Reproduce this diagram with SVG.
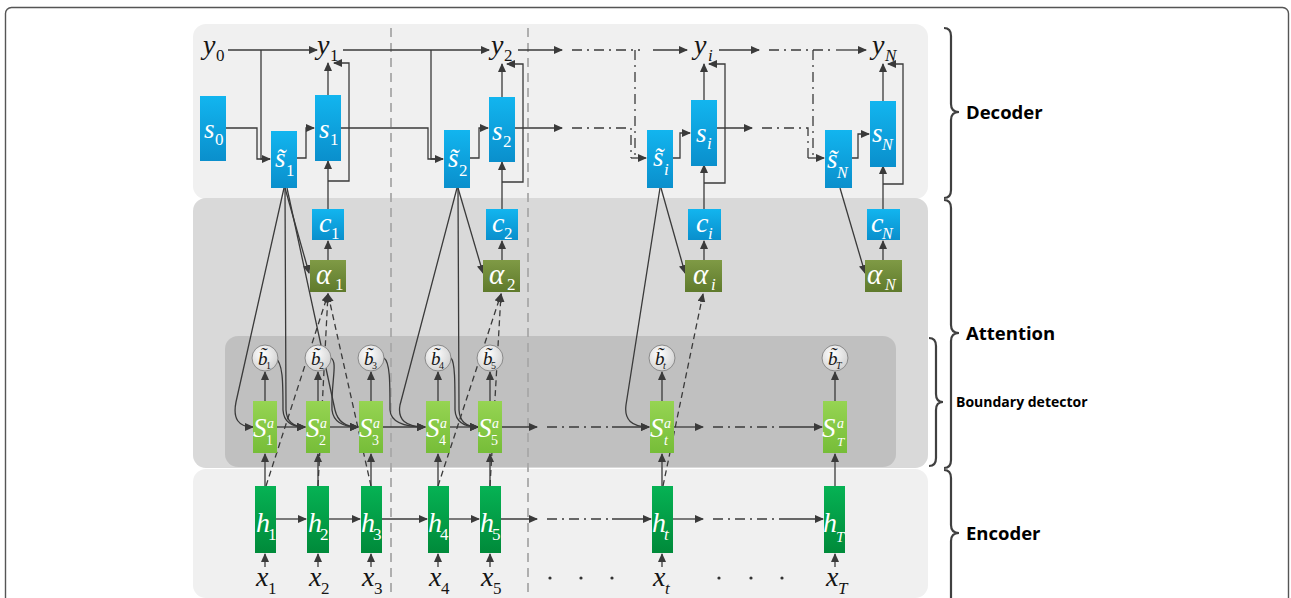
<svg xmlns="http://www.w3.org/2000/svg" width="1291" height="598" viewBox="0 0 1291 598">
<defs>
<linearGradient id="gBlue" x1="0" y1="0" x2="0" y2="1"><stop offset="0" stop-color="#12b5ef"/><stop offset="1" stop-color="#0a8fcc"/></linearGradient>
<linearGradient id="gOlive" x1="0" y1="0" x2="0" y2="1"><stop offset="0" stop-color="#7f9a45"/><stop offset="1" stop-color="#5f7a2c"/></linearGradient>
<linearGradient id="gLight" x1="0" y1="0" x2="0" y2="1"><stop offset="0" stop-color="#96d452"/><stop offset="1" stop-color="#76bd38"/></linearGradient>
<linearGradient id="gDark" x1="0" y1="0" x2="0" y2="1"><stop offset="0" stop-color="#06b254"/><stop offset="1" stop-color="#008a3a"/></linearGradient>
<radialGradient id="gCirc" cx="0.4" cy="0.35" r="0.7"><stop offset="0" stop-color="#ffffff"/><stop offset="1" stop-color="#d0d0d0"/></radialGradient>
<marker id="ah" markerUnits="userSpaceOnUse" markerWidth="9" markerHeight="8" refX="8" refY="4" orient="auto"><path d="M0,0 L9,4 L0,8 z" fill="#3a3a3a"/></marker>
<style>
.ln{fill:none;stroke:#3a3a3a;stroke-width:1.3}
.dd{fill:none;stroke:#3a3a3a;stroke-width:1.3;stroke-dasharray:10 5 2 5}
.ds{fill:none;stroke:#3a3a3a;stroke-width:1.3;stroke-dasharray:6 4}
.gd{fill:none;stroke:#a8a8a8;stroke-width:1.8;stroke-dasharray:9 6}
.br{fill:none;stroke:#404040;stroke-width:2.2}
.m{font-style:italic}
.n{font-style:normal}
.w{fill:#ffffff}
.k{fill:#151515}
.lab{font-weight:bold;fill:#000}
</style>
</defs>
<rect x="5.5" y="7.5" width="1283" height="620" rx="6" fill="#fff" stroke="#555" stroke-width="1.4"/>
<g id="panels">
<rect x="193" y="24" width="735" height="175" rx="13" fill="#f0f0f0"/>
<rect x="193" y="198" width="735" height="270" rx="13" fill="#d9d9d9"/>
<rect x="225" y="336" width="671" height="131" rx="13" fill="#c0c0c0"/>
<rect x="193" y="469" width="735" height="129" rx="13" fill="#f0f0f0"/>
</g>
<g id="separators">
<line class="gd" x1="391" y1="28" x2="391" y2="598"/>
<line class="gd" x1="528" y1="28" x2="528" y2="598"/>
</g>
<g id="connectors">
<path class="ln" d="M228,50 H317" marker-end="url(#ah)"/>
<path class="ln" d="M261,50 V159 H270" marker-end="url(#ah)"/>
<path class="ln" d="M226,128 H257 V159 H270"/>
<path class="ln" d="M297,158 H306 V128 H314" marker-end="url(#ah)"/>
<path class="ln" d="M328,95 V63" marker-end="url(#ah)"/>
<path class="ln" d="M328,209 V161" marker-end="url(#ah)"/>
<path class="ln" d="M328,181 H349 V63 H334" marker-end="url(#ah)"/>
<path class="ln" d="M343,50 H489" marker-end="url(#ah)"/>
<path class="ln" d="M431,50 V159 H443" marker-end="url(#ah)"/>
<path class="ln" d="M341,128 H428 V159 H443"/>
<path class="ln" d="M470,158 H479 V128 H488" marker-end="url(#ah)"/>
<path class="ln" d="M502,97 V64" marker-end="url(#ah)"/>
<path class="ln" d="M502,209 V162" marker-end="url(#ah)"/>
<path class="ln" d="M502,182 H523 V64 H507" marker-end="url(#ah)"/>
<path class="ln" d="M518,50 H562" marker-end="url(#ah)"/>
<path class="dd" d="M572,50 H640"/>
<path class="ln" d="M653,50 H687" marker-end="url(#ah)"/>
<path class="dd" d="M635,50 V158"/>
<path class="ln" d="M515,128 H562" marker-end="url(#ah)"/>
<path class="dd" d="M572,128 H631 V158"/>
<path class="ln" d="M631,158 H646" marker-end="url(#ah)"/>
<path class="ln" d="M673,158 H680 V133 H690" marker-end="url(#ah)"/>
<path class="ln" d="M704,100 V64" marker-end="url(#ah)"/>
<path class="ln" d="M704,209 V165" marker-end="url(#ah)"/>
<path class="ln" d="M704,183 H725 V64 H709" marker-end="url(#ah)"/>
<path class="ln" d="M719,50 H759" marker-end="url(#ah)"/>
<path class="dd" d="M769,50 H832"/>
<path class="ln" d="M836,50 H866" marker-end="url(#ah)"/>
<path class="dd" d="M813,50 V158"/>
<path class="ln" d="M717,128 H752" marker-end="url(#ah)"/>
<path class="dd" d="M762,128 H808 V158"/>
<path class="ln" d="M808,158 H824" marker-end="url(#ah)"/>
<path class="ln" d="M852,158 H858 V134 H869" marker-end="url(#ah)"/>
<path class="ln" d="M883,101 V64" marker-end="url(#ah)"/>
<path class="ln" d="M883,209 V166" marker-end="url(#ah)"/>
<path class="ln" d="M883,184 H903 V64 H888" marker-end="url(#ah)"/>
<path class="ln" d="M328,260 V241" marker-end="url(#ah)"/>
<path class="ln" d="M502,260 V241" marker-end="url(#ah)"/>
<path class="ln" d="M704,260 V241" marker-end="url(#ah)"/>
<path class="ln" d="M883,260 V241" marker-end="url(#ah)"/>
<path class="ln" d="M284,188 L236,402 Q231,427 253,427" marker-end="url(#ah)"/>
<path class="ln" d="M285,188 L286,410 Q287,427 305,427" marker-end="url(#ah)"/>
<path class="ln" d="M285,188 L309,273" marker-end="url(#ah)"/>
<path class="ln" d="M287,188 L335,410 Q339,427 358,427" marker-end="url(#ah)"/>
<path class="ln" d="M457,188 L400,405 Q396,427 425,427" marker-end="url(#ah)"/>
<path class="ln" d="M458,188 L459,410 Q460,427 478,427" marker-end="url(#ah)"/>
<path class="ln" d="M458,188 L483,273" marker-end="url(#ah)"/>
<path class="ln" d="M660,188 L626,405 Q623,427 649,427" marker-end="url(#ah)"/>
<path class="ln" d="M661,188 L685,273" marker-end="url(#ah)"/>
<path class="ln" d="M840,188 L865,273" marker-end="url(#ah)"/>
<path class="ds" d="M266,486 L328,294" marker-end="url(#ah)"/>
<path class="ds" d="M318,486 L328,294" marker-end="url(#ah)"/>
<path class="ds" d="M371,486 L328,294" marker-end="url(#ah)"/>
<path class="ds" d="M438,486 L501,294" marker-end="url(#ah)"/>
<path class="ds" d="M490,486 L501,294" marker-end="url(#ah)"/>
<path class="ds" d="M663,486 L703,294" marker-end="url(#ah)"/>
<path class="ln" d="M275,358 C283,362 283,382 283,410 Q284,427 305,427" marker-end="url(#ah)"/>
<path class="ln" d="M331,358 C338,362 331,382 332,410 Q334,427 358,427" marker-end="url(#ah)"/>
<path class="ln" d="M384,358 C390,362 390,382 390,410 Q391,427 425,427" marker-end="url(#ah)"/>
<path class="ln" d="M451,358 C455,362 455,382 455,410 Q456,427 478,427" marker-end="url(#ah)"/>
<path class="ln" d="M265,401 V372" marker-end="url(#ah)"/>
<path class="ln" d="M318,401 V372" marker-end="url(#ah)"/>
<path class="ln" d="M371,401 V372" marker-end="url(#ah)"/>
<path class="ln" d="M438,401 V372" marker-end="url(#ah)"/>
<path class="ln" d="M490,401 V372" marker-end="url(#ah)"/>
<path class="ln" d="M662,401 V372" marker-end="url(#ah)"/>
<path class="ln" d="M835,401 V372" marker-end="url(#ah)"/>
<path class="ln" d="M277,427 H305" marker-end="url(#ah)"/>
<path class="ln" d="M330,427 H358" marker-end="url(#ah)"/>
<path class="ln" d="M383,427 H425" marker-end="url(#ah)"/>
<path class="ln" d="M450,427 H478" marker-end="url(#ah)"/>
<path class="ln" d="M502,427 H537" marker-end="url(#ah)"/>
<path class="dd" d="M547,427 H612"/>
<path class="ln" d="M612,427 H649" marker-end="url(#ah)"/>
<path class="ln" d="M674,427 H703" marker-end="url(#ah)"/>
<path class="dd" d="M713,427 H780"/>
<path class="ln" d="M780,427 H822" marker-end="url(#ah)"/>
<path class="ln" d="M265,486 V454" marker-end="url(#ah)"/>
<path class="ln" d="M318,486 V454" marker-end="url(#ah)"/>
<path class="ln" d="M371,486 V454" marker-end="url(#ah)"/>
<path class="ln" d="M438,486 V454" marker-end="url(#ah)"/>
<path class="ln" d="M490,486 V454" marker-end="url(#ah)"/>
<path class="ln" d="M662,486 V454" marker-end="url(#ah)"/>
<path class="ln" d="M835,486 V454" marker-end="url(#ah)"/>
<path class="ln" d="M276,519 H306" marker-end="url(#ah)"/>
<path class="ln" d="M329,519 H360" marker-end="url(#ah)"/>
<path class="ln" d="M382,519 H427" marker-end="url(#ah)"/>
<path class="ln" d="M449,519 H479" marker-end="url(#ah)"/>
<path class="ln" d="M501,519 H537" marker-end="url(#ah)"/>
<path class="dd" d="M547,519 H612"/>
<path class="ln" d="M612,519 H651" marker-end="url(#ah)"/>
<path class="ln" d="M673,519 H703" marker-end="url(#ah)"/>
<path class="dd" d="M713,519 H780"/>
<path class="ln" d="M780,519 H823" marker-end="url(#ah)"/>
<path class="ln" d="M265,567 V554" marker-end="url(#ah)"/>
<path class="ln" d="M318,567 V554" marker-end="url(#ah)"/>
<path class="ln" d="M371,567 V554" marker-end="url(#ah)"/>
<path class="ln" d="M438,567 V554" marker-end="url(#ah)"/>
<path class="ln" d="M490,567 V554" marker-end="url(#ah)"/>
<path class="ln" d="M662,567 V554" marker-end="url(#ah)"/>
<path class="ln" d="M835,567 V554" marker-end="url(#ah)"/>
</g>
<g id="nodes" font-family="Liberation Serif, DejaVu Serif, serif">
<g id="y0"><text class="m k" x="203" y="54" font-size="28">y</text><text class="n k" x="216" y="61" font-size="17">0</text></g>
<g id="y1"><text class="m k" x="317" y="54" font-size="28">y</text><text class="n k" x="330" y="61" font-size="17">1</text></g>
<g id="y2"><text class="m k" x="491" y="54" font-size="28">y</text><text class="n k" x="504" y="61" font-size="17">2</text></g>
<g id="yi"><text class="m k" x="694" y="54" font-size="28">y</text><text class="m k" x="708" y="61" font-size="17">i</text></g>
<g id="yN"><text class="m k" x="872" y="54" font-size="28">y</text><text class="m k" x="885" y="61" font-size="17">N</text></g>
<g id="s0"><rect x="200" y="96" width="26" height="65" fill="url(#gBlue)"/><text class="m w" x="204" y="138" font-size="27">s</text><text class="n w" x="215" y="145" font-size="17">0</text></g>
<g id="st1"><rect x="271" y="131" width="26" height="57" fill="url(#gBlue)"/><text class="m w" x="275" y="167" font-size="27">s&#771;</text><text class="n w" x="286" y="176" font-size="17">1</text></g>
<g id="s1"><rect x="315" y="95" width="26" height="66" fill="url(#gBlue)"/><text class="m w" x="319" y="138" font-size="27">s</text><text class="n w" x="330" y="145" font-size="17">1</text></g>
<g id="st2"><rect x="444" y="130" width="26" height="58" fill="url(#gBlue)"/><text class="m w" x="448" y="167" font-size="27">s&#771;</text><text class="n w" x="459" y="176" font-size="17">2</text></g>
<g id="s2"><rect x="489" y="97" width="26" height="65" fill="url(#gBlue)"/><text class="m w" x="492" y="140" font-size="27">s</text><text class="n w" x="503" y="147" font-size="17">2</text></g>
<g id="sti"><rect x="647" y="130" width="26" height="58" fill="url(#gBlue)"/><text class="m w" x="653" y="166" font-size="27">s&#771;</text><text class="m w" x="664" y="175" font-size="17">i</text></g>
<g id="si"><rect x="691" y="100" width="26" height="66" fill="url(#gBlue)"/><text class="m w" x="696" y="142" font-size="27">s</text><text class="m w" x="707" y="149" font-size="17">i</text></g>
<g id="stN"><rect x="825" y="130" width="27" height="58" fill="url(#gBlue)"/><text class="m w" x="827" y="168" font-size="27">s&#771;</text><text class="m w" x="837" y="178" font-size="16">N</text></g>
<g id="sN"><rect x="870" y="101" width="26" height="66" fill="url(#gBlue)"/><text class="m w" x="872" y="142" font-size="27">s</text><text class="m w" x="882" y="150" font-size="16">N</text></g>
<g id="c1"><rect x="312" y="209" width="32" height="31" fill="url(#gBlue)"/><text class="m w" x="319" y="232" font-size="28">c</text><text class="n w" x="331" y="239" font-size="17">1</text></g>
<g id="c2"><rect x="486" y="209" width="32" height="31" fill="url(#gBlue)"/><text class="m w" x="492" y="232" font-size="28">c</text><text class="n w" x="504" y="239" font-size="17">2</text></g>
<g id="ci"><rect x="688" y="209" width="33" height="31" fill="url(#gBlue)"/><text class="m w" x="696" y="232" font-size="28">c</text><text class="m w" x="708" y="239" font-size="17">i</text></g>
<g id="cN"><rect x="867" y="209" width="33" height="31" fill="url(#gBlue)"/><text class="m w" x="871" y="232" font-size="28">c</text><text class="m w" x="882" y="239" font-size="16">N</text></g>
<g id="a1"><rect x="310" y="260" width="36" height="32" fill="url(#gOlive)"/><text class="m w" x="316" y="284" font-size="29">α</text><text class="n w" x="335" y="290" font-size="17">1</text></g>
<g id="a2"><rect x="483" y="260" width="37" height="32" fill="url(#gOlive)"/><text class="m w" x="489" y="284" font-size="29">α</text><text class="n w" x="507" y="290" font-size="17">2</text></g>
<g id="ai"><rect x="685" y="260" width="37" height="32" fill="url(#gOlive)"/><text class="m w" x="693" y="284" font-size="29">α</text><text class="m w" x="711" y="290" font-size="17">i</text></g>
<g id="aN"><rect x="865" y="260" width="37" height="32" fill="url(#gOlive)"/><text class="m w" x="867" y="284" font-size="29">α</text><text class="m w" x="885" y="290" font-size="16">N</text></g>
<g id="b1"><circle cx="265" cy="358" r="13" fill="url(#gCirc)" stroke="#8a8a8a"/><text class="m k" x="258" y="365" font-size="19">b&#771;</text><text class="n k" x="266" y="369" font-size="10">1</text></g>
<g id="b2"><circle cx="318" cy="358" r="13" fill="url(#gCirc)" stroke="#8a8a8a"/><text class="m k" x="311" y="365" font-size="19">b&#771;</text><text class="n k" x="319" y="369" font-size="10">2</text></g>
<g id="b3"><circle cx="371" cy="358" r="13" fill="url(#gCirc)" stroke="#8a8a8a"/><text class="m k" x="364" y="365" font-size="19">b&#771;</text><text class="n k" x="372" y="369" font-size="10">3</text></g>
<g id="b4"><circle cx="438" cy="358" r="13" fill="url(#gCirc)" stroke="#8a8a8a"/><text class="m k" x="431" y="365" font-size="19">b&#771;</text><text class="n k" x="439" y="369" font-size="10">4</text></g>
<g id="b5"><circle cx="490" cy="358" r="13" fill="url(#gCirc)" stroke="#8a8a8a"/><text class="m k" x="483" y="365" font-size="19">b&#771;</text><text class="n k" x="491" y="369" font-size="10">5</text></g>
<g id="bt"><circle cx="662" cy="358" r="13" fill="url(#gCirc)" stroke="#8a8a8a"/><text class="m k" x="655" y="365" font-size="19">b&#771;</text><text class="m k" x="663" y="369" font-size="10">t</text></g>
<g id="bT"><circle cx="835" cy="358" r="13" fill="url(#gCirc)" stroke="#8a8a8a"/><text class="m k" x="828" y="365" font-size="19">b&#771;</text><text class="m k" x="836" y="369" font-size="10">T</text></g>
<g id="Sa1"><rect x="253" y="401" width="24" height="52" fill="url(#gLight)"/><text class="m w" x="253" y="437" font-size="27">S</text><text class="m w" x="267" y="428" font-size="14">a</text><text class="n w" x="266" y="445" font-size="14">1</text></g>
<g id="Sa2"><rect x="306" y="401" width="24" height="52" fill="url(#gLight)"/><text class="m w" x="306" y="437" font-size="27">S</text><text class="m w" x="320" y="428" font-size="14">a</text><text class="n w" x="319" y="445" font-size="14">2</text></g>
<g id="Sa3"><rect x="359" y="401" width="24" height="52" fill="url(#gLight)"/><text class="m w" x="359" y="437" font-size="27">S</text><text class="m w" x="373" y="428" font-size="14">a</text><text class="n w" x="372" y="445" font-size="14">3</text></g>
<g id="Sa4"><rect x="426" y="401" width="24" height="52" fill="url(#gLight)"/><text class="m w" x="426" y="437" font-size="27">S</text><text class="m w" x="440" y="428" font-size="14">a</text><text class="n w" x="439" y="445" font-size="14">4</text></g>
<g id="Sa5"><rect x="478" y="401" width="24" height="52" fill="url(#gLight)"/><text class="m w" x="478" y="437" font-size="27">S</text><text class="m w" x="492" y="428" font-size="14">a</text><text class="n w" x="491" y="445" font-size="14">5</text></g>
<g id="Sat"><rect x="650" y="401" width="24" height="52" fill="url(#gLight)"/><text class="m w" x="650" y="437" font-size="27">S</text><text class="m w" x="664" y="428" font-size="14">a</text><text class="m w" x="664" y="445" font-size="14">t</text></g>
<g id="SaT"><rect x="823" y="401" width="24" height="52" fill="url(#gLight)"/><text class="m w" x="822" y="437" font-size="27">S</text><text class="m w" x="837" y="428" font-size="14">a</text><text class="m w" x="837" y="446" font-size="13">T</text></g>
<g id="h1"><rect x="255" y="486" width="21" height="67" fill="url(#gDark)"/><text class="m w" x="256" y="532" font-size="28">h</text><text class="n w" x="268" y="540" font-size="17">1</text></g>
<g id="h2"><rect x="307" y="486" width="22" height="67" fill="url(#gDark)"/><text class="m w" x="308" y="532" font-size="28">h</text><text class="n w" x="320" y="540" font-size="17">2</text></g>
<g id="h3"><rect x="361" y="486" width="21" height="67" fill="url(#gDark)"/><text class="m w" x="361" y="532" font-size="28">h</text><text class="n w" x="373" y="540" font-size="17">3</text></g>
<g id="h4"><rect x="428" y="486" width="21" height="67" fill="url(#gDark)"/><text class="m w" x="428" y="532" font-size="28">h</text><text class="n w" x="440" y="540" font-size="17">4</text></g>
<g id="h5"><rect x="480" y="486" width="21" height="67" fill="url(#gDark)"/><text class="m w" x="480" y="532" font-size="28">h</text><text class="n w" x="492" y="540" font-size="17">5</text></g>
<g id="ht"><rect x="652" y="486" width="21" height="67" fill="url(#gDark)"/><text class="m w" x="652" y="532" font-size="28">h</text><text class="m w" x="664" y="540" font-size="17">t</text></g>
<g id="hT"><rect x="824" y="486" width="21" height="67" fill="url(#gDark)"/><text class="m w" x="823" y="532" font-size="28">h</text><text class="m w" x="836" y="542" font-size="15">T</text></g>
<g id="x1"><text class="m k" x="256" y="586" font-size="28">x</text><text class="n k" x="268" y="594" font-size="17">1</text></g>
<g id="x2"><text class="m k" x="309" y="586" font-size="28">x</text><text class="n k" x="321" y="594" font-size="17">2</text></g>
<g id="x3"><text class="m k" x="362" y="586" font-size="28">x</text><text class="n k" x="374" y="594" font-size="17">3</text></g>
<g id="x4"><text class="m k" x="429" y="586" font-size="28">x</text><text class="n k" x="441" y="594" font-size="17">4</text></g>
<g id="x5"><text class="m k" x="481" y="586" font-size="28">x</text><text class="n k" x="493" y="594" font-size="17">5</text></g>
<g id="xt"><text class="m k" x="653" y="586" font-size="28">x</text><text class="m k" x="665" y="594" font-size="17">t</text></g>
<g id="xT"><text class="m k" x="826" y="586" font-size="28">x</text><text class="m k" x="838" y="594" font-size="17">T</text></g>
</g>
<g id="dots" fill="#333"><circle cx="550" cy="578" r="1.6"/><circle cx="581" cy="578" r="1.6"/><circle cx="612" cy="578" r="1.6"/><circle cx="719" cy="578" r="1.6"/><circle cx="751" cy="578" r="1.6"/><circle cx="782" cy="578" r="1.6"/></g>
<g id="labels" font-family="Open Sans, Liberation Sans, sans-serif">
<g id="brace-decoder"><path class="br" d="M944,28 Q951,28 951,36 V104 Q951,112 959,112 Q951,112 951,120 V190 Q951,198 944,198"/><text class="lab" x="966" y="119" font-size="18.5">Decoder</text></g>
<g id="brace-attention"><path class="br" d="M944,200 Q951,200 951,208 V325 Q951,333 959,333 Q951,333 951,341 V460 Q951,468 944,468"/><text class="lab" x="966" y="340" font-size="18.5">Attention</text></g>
<g id="brace-boundary"><path class="br" d="M929,338 Q936,338 936,346 V394 Q936,402 943,402 Q936,402 936,410 V458 Q936,466 929,466"/><text class="lab" x="956" y="407" font-size="14">Boundary detector</text></g>
<g id="brace-encoder"><path class="br" d="M944,470 Q951,470 951,478 V525 Q951,533 959,533 Q951,533 951,541 V598"/><text class="lab" x="966" y="540" font-size="18.5">Encoder</text></g>
</g>
</svg>
